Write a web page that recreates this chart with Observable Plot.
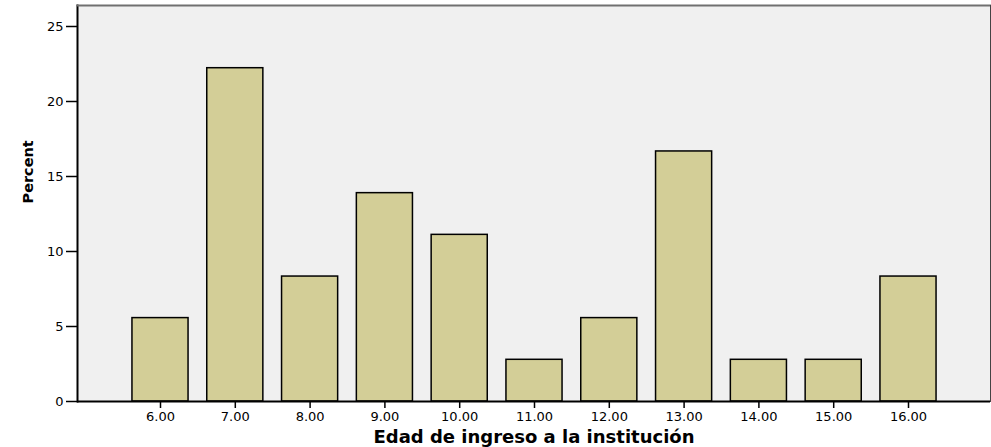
<!DOCTYPE html>
<html><head><meta charset="utf-8">
<script src="https://cdn.jsdelivr.net/npm/d3@7"></script>
<script src="https://cdn.jsdelivr.net/npm/@observablehq/plot@0.6"></script>
<style>body{margin:0;background:#fff}</style>
</head><body><div id="chart"></div>
<script>
const ages = ["6.00","7.00","8.00","9.00","10.00","11.00","12.00","13.00","14.00","15.00","16.00"];
const percents = [5.56,22.22,8.33,13.89,11.11,2.78,5.56,16.67,2.78,2.78,8.33];
const yTicks = [0,5,10,15,20,25];
const xTitle = "Edad de ingreso a la institución";
const yTitle = "Percent";
const data = ages.map((a,i)=>({age:a, pct:percents[i]}));
const chart = Plot.plot({
  width:991, height:447, marginLeft:77, marginRight:1, marginTop:5, marginBottom:46,
  style:{fontFamily:"DejaVu Sans", fontSize:"13px", color:"#000", background:"#fff"},
  x:{type:"band", domain:ages, range:[122.6,945.4], paddingInner:0.25, paddingOuter:0.125, round:false, axis:null},
  y:{domain:[0,26.4], axis:null},
  marks:[
    Plot.frame({fill:"#f0f0f0", stroke:null}),
    Plot.barY(data,{x:"age", y:"pct", fill:"#d3ce97", stroke:"#000", strokeWidth:1.5}),
    Plot.axisY(yTicks,{tickSize:11, tickPadding:3, label:null, strokeWidth:1.5, fontSize:13}),
    Plot.axisX({tickSize:7, tickPadding:3, label:null, strokeWidth:1.5, fontSize:13}),
    Plot.ruleY([0],{stroke:"#000", strokeWidth:2}),
    Plot.frame({anchor:"left", stroke:"#000", strokeWidth:2}),
    Plot.frame({anchor:"top", stroke:"#707070", strokeWidth:2}),
    Plot.frame({anchor:"right", stroke:"#444", strokeWidth:1}),
    Plot.text([yTitle], {frameAnchor:"left", rotate:-90, dx:-49, fontWeight:"bold", fontSize:14.5}),
    Plot.text([xTitle], {frameAnchor:"bottom", dy:41.5, lineAnchor:"bottom", fontWeight:"bold", fontSize:18})
  ]
});
document.getElementById("chart").append(chart);
</script>
</body></html>
